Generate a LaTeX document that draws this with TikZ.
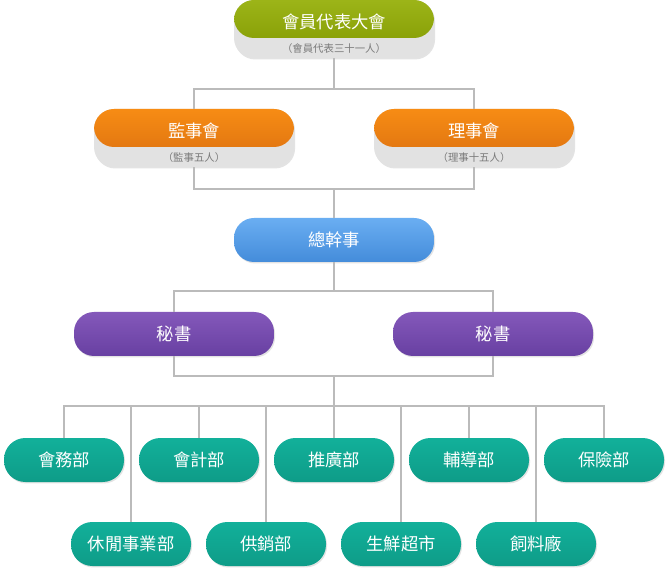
\documentclass[tikz,border=0pt]{standalone}
\usepackage{fontspec}
\setmainfont{Noto Sans CJK TC}
\usetikzlibrary{shadows}
\definecolor{greenT}{HTML}{9CB418}
\definecolor{greenB}{HTML}{819800}
\definecolor{orangeT}{HTML}{F78C14}
\definecolor{orangeB}{HTML}{DA6E10}
\definecolor{blueT}{HTML}{6AAEF2}
\definecolor{blueB}{HTML}{448CDA}
\definecolor{purpleT}{HTML}{8458BA}
\definecolor{purpleB}{HTML}{6840A2}
\definecolor{tealT}{HTML}{12B09A}
\definecolor{tealB}{HTML}{0E9C88}
\definecolor{bandgray}{HTML}{E2E2E2}
\definecolor{subgray}{HTML}{7A7A7A}
\definecolor{linegray}{HTML}{BBBBBB}
\begin{document}
\begin{tikzpicture}[x=0.75pt,y=-0.75pt,
  shad/.style={drop shadow={opacity=0.18, shadow xshift=0.8pt, shadow yshift=-1.1pt, fill=black!60}},
  twoband/.style 2 args={shad, rounded corners=15pt, minimum width=150pt, minimum height=43.5pt,
     inner sep=0pt, fill=bandgray,
     path picture={\shade[top color=#1, middle color=#2, bottom color=#2]
        (path picture bounding box.north west) rectangle ([yshift=-28.5pt]path picture bounding box.north east);}},
  titletext/.style={text=white, font=\fontsize{13pt}{15pt}\selectfont, inner sep=0pt},
  subtext/.style={text=subgray, font=\fontsize{7.8pt}{9pt}\selectfont, inner sep=0pt},
  pill/.style 2 args={shad, rounded corners=15pt, minimum width=150pt, minimum height=33pt, inner sep=0pt,
     top color=#1, middle color=#2, bottom color=#2, text=white, font=\fontsize{13pt}{15pt}\selectfont},
  dept/.style={pill={tealT}{tealB}, minimum width=90pt, rounded corners=16pt},
  conn/.style={draw=linegray, line width=0.9pt}
]
\useasboundingbox (0,0) rectangle (670,580);

% junction coordinates
\coordinate (j1) at (334,89);
\coordinate (j2) at (334,189);
\coordinate (j3) at (334,291);
\coordinate (j4) at (334,376);
\coordinate (j5) at (334,406);

% boxes
\node[twoband={greenT}{greenB}] (top) at (334,29) {};
\node[twoband={orangeT}{orangeB}] (jsz) at (194,138) {};
\node[twoband={orangeT}{orangeB}] (lsh) at (474,138) {};
\node[pill={blueT}{blueB}] (zgs) at (334,240) {總幹事};
\node[pill={purpleT}{purpleB}] (ms1) at (174,334) {秘書};
\node[pill={purpleT}{purpleB}] (ms2) at (493,334) {秘書};

\node[dept] (d1) at (64,460) {會務部};
\node[dept] (d3) at (199,460) {會計部};
\node[dept] (d5) at (334,460) {推廣部};
\node[dept] (d7) at (469,460) {輔導部};
\node[dept] (d9) at (604,460) {保險部};
\node[dept] (d2) at (131,544) {休閒事業部};
\node[dept] (d4) at (266,544) {供銷部};
\node[dept] (d6) at (401,544) {生鮮超市};
\node[dept] (d8) at (536,544) {飼料廠};

% texts in two-band boxes
\node[titletext] (top-t) at ([yshift=-16.5pt]top.north) {會員代表大會};
\node[subtext] (top-s) at ([yshift=-36.5pt]top.north) {（會員代表三十一人）};
\node[titletext] (jsz-t) at ([yshift=-16.5pt]jsz.north) {監事會};
\node[subtext] (jsz-s) at ([yshift=-36.5pt]jsz.north) {（監事五人）};
\node[titletext] (lsh-t) at ([yshift=-16.5pt]lsh.north) {理事會};
\node[subtext] (lsh-s) at ([yshift=-36.5pt]lsh.north) {（理事十五人）};

% connectors
\draw[conn] (top.south) -- (j1);
\draw[conn] (jsz.north) |- (j1) -| (lsh.north);
\draw[conn] (jsz.south) |- (j2) -| (lsh.south);
\draw[conn] (j2) -- (zgs.north);
\draw[conn] (zgs.south) -- (j3);
\draw[conn] (ms1.north) |- (j3) -| (ms2.north);
\draw[conn] (ms1.south) |- (j4) -| (ms2.south);
\draw[conn] (j4) -- (j5);
\draw[conn] (d1.north) |- (j5) -| (d9.north);
\foreach \d in {d2,d3,d4,d5,d6,d7,d8}{
  \draw[conn] (\d.north) -- (\d.north |- j5);
}
\end{tikzpicture}
\end{document}
